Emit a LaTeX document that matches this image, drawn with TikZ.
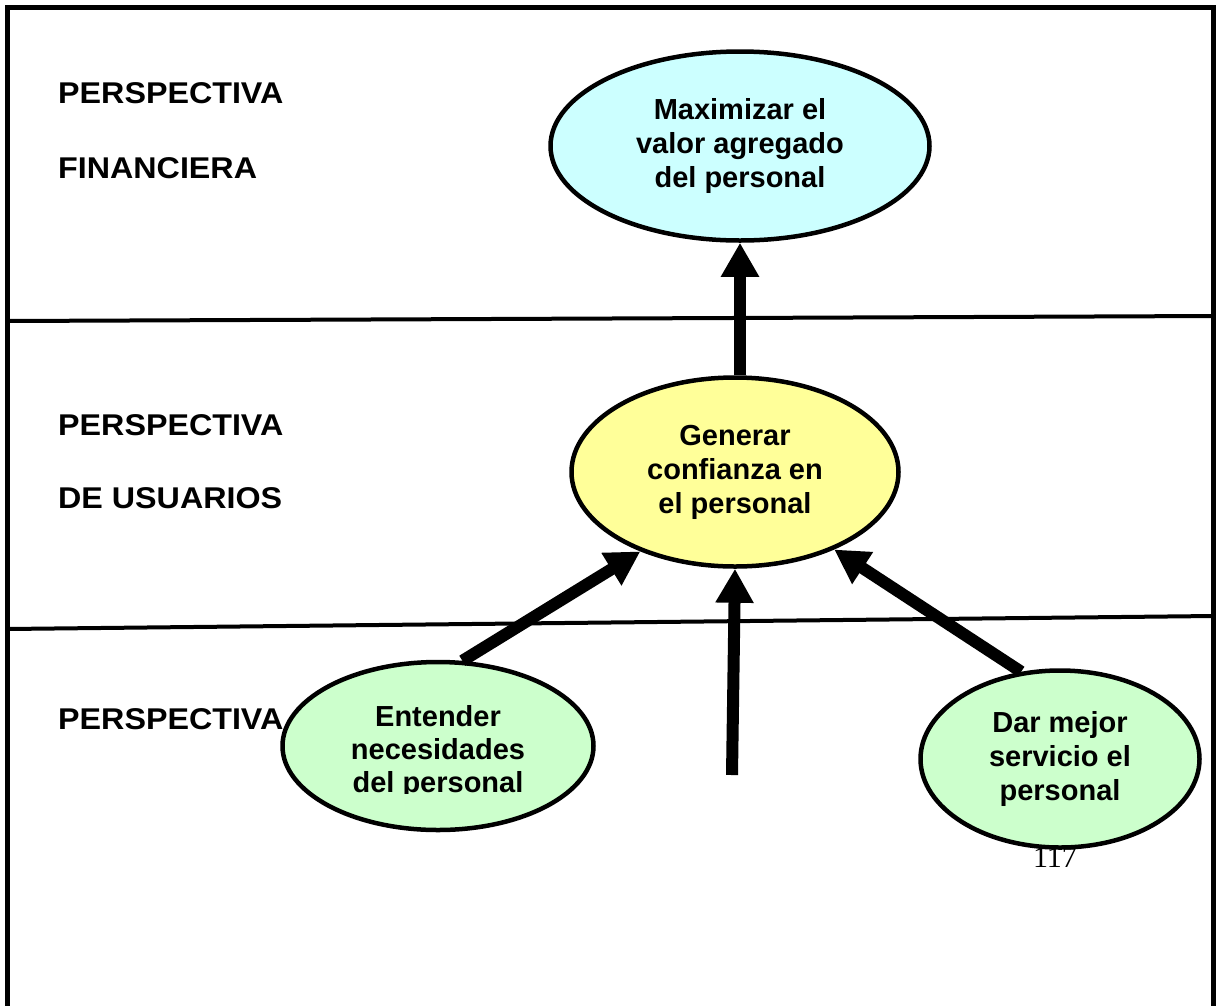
\documentclass[tikz,border=0pt]{standalone}
\usepackage{fontspec}
\setmainfont{Liberation Sans}
\newfontfamily\serifnum{Liberation Serif}
\usetikzlibrary{shapes.geometric,arrows.meta}
\begin{document}
\begin{tikzpicture}[x=1pt,y=-1pt,
  frameline/.style={line width=5pt},
  sepline/.style={line width=4pt},
  lab/.style={anchor=base west,font=\fontsize{30}{30}\selectfont\bfseries,inner sep=0pt},
  goal/.style={ellipse,draw=black,line width=4.5pt,inner sep=0pt,align=center,
     font=\fontsize{29}{34}\selectfont\bfseries},
  bigarrow/.style={line width=12pt,-{Triangle[length=34pt,width=36pt]}}]
\useasboundingbox (0,0) rectangle (1216,1005);
% frame
\draw[frameline] (7,1010) -- (7,7) -- (1213,7) -- (1213,1010);
\draw[sepline] (7,321) -- (1213,316);
\draw[sepline] (7,629) -- (1213,616);
% labels
\node[lab] (l1) at (58,103) {\scalebox{1.075}[1]{PERSPECTIVA}};
\node[lab] (l2) at (58,178) {\scalebox{1.075}[1]{FINANCIERA}};
\node[lab] (l3) at (58,435) {\scalebox{1.075}[1]{PERSPECTIVA}};
\node[lab] (l4) at (58,508) {\scalebox{1.075}[1]{DE USUARIOS}};
\node[lab] (l5) at (58,729) {\scalebox{1.075}[1]{PERSPECTIVA}};
\node[anchor=base,inner sep=0pt,font=\serifnum\fontsize{30}{30}\selectfont] (pg) at (1055,867) {117};
% ellipses
\node[goal,fill={rgb,255:red,204;green,255;blue,255},minimum width=379pt,minimum height=189pt] (max) at (740,146) {Maximizar el\\valor agregado\\del personal};
\node[goal,fill={rgb,255:red,255;green,255;blue,153},minimum width=327pt,minimum height=189pt] (gen) at (735,472) {Generar\\confianza en\\el personal};
\node[goal,fill={rgb,255:red,204;green,255;blue,204},minimum width=311pt,minimum height=168pt] (ent) at (438,746) {};
\begin{scope}
\clip (0,0) rectangle (1216,793);
\node[font=\fontsize{29}{33}\selectfont\bfseries,align=center,inner sep=0pt] (entt) at (438,752) {Entender\\necesidades\\del personal};
\end{scope}
\node[goal,fill={rgb,255:red,204;green,255;blue,204},minimum width=279pt,minimum height=177pt] (dar) at (1060,759) {Dar mejor\\servicio el\\personal};
% arrows
\coordinate (free) at (732,775);
\draw[bigarrow] (max.south |- gen.north) -- (max.south);
\draw[bigarrow] (ent.74) -- (gen.220);
\draw[bigarrow] (free) -- (gen.south);
\draw[bigarrow] (dar.114) -- (gen.322);
\end{tikzpicture}
\end{document}
